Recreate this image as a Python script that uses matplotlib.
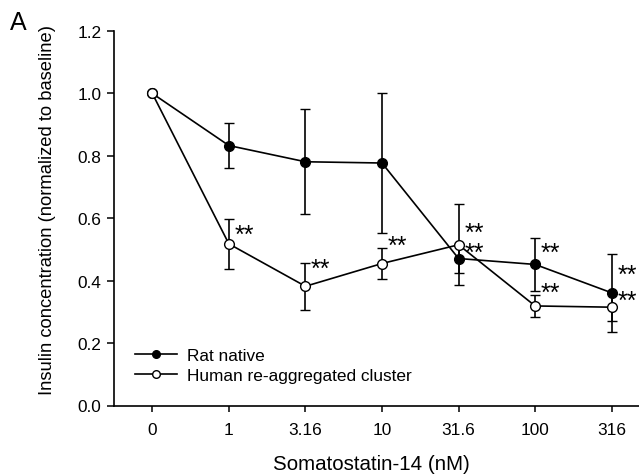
import matplotlib
matplotlib.use("Agg")
import matplotlib.pyplot as plt
from matplotlib.lines import Line2D
import numpy as np

plt.rcParams['font.family'] = ['Liberation Sans', 'DejaVu Sans']

# ---- data ----
doses = ["0", "1", "3.16", "10", "31.6", "100", "316"]
rat_mean = [1.0, 0.833, 0.781, 0.777, 0.471, 0.452, 0.361]
rat_err = [0.0, 0.073, 0.168, 0.224, 0.045, 0.084, 0.125]
human_mean = [1.0, 0.518, 0.382, 0.455, 0.515, 0.319, 0.315]
human_err = [0.0, 0.080, 0.075, 0.051, 0.130, 0.034, 0.044]
series_names = ["Rat native", "Human re-aggregated cluster"]
# significance marks: (dose index, value level)
star_idx = [1, 2, 3, 4, 4, 5, 5, 6, 6]
star_val = [0.556, 0.448, 0.523, 0.563, 0.501, 0.499, 0.371, 0.428, 0.346]
star_text = "**"
xlabel = "Somatostatin-14 (nM)"
ylabel = "Insulin concentration (normalized to baseline)"
panel = "A"

fig = plt.figure(figsize=(6.39, 4.77), dpi=100)
ax = fig.add_axes([114/639, 1 - 406.5/477, 536/639, 374.5/477])

x = np.arange(len(doses))
common = dict(color='black', lw=1.2, ms=7, capsize=3.6, elinewidth=1.2,
              capthick=1.2, markeredgewidth=1.0, markeredgecolor='black')
ax.errorbar(x, rat_mean, yerr=rat_err, fmt='-o', markerfacecolor='black',
            zorder=3, **common)
ax.errorbar(x, human_mean, yerr=human_err, fmt='-o', markerfacecolor='white',
            zorder=4, **common)

# group stacked marks that sit very close together into one two-line text
groups = []
for i, v in zip(star_idx, star_val):
    if groups and groups[-1][0] == i and abs(groups[-1][1][-1] - v) < 0.08:
        groups[-1][1].append(v)
    else:
        groups.append((i, [v]))
for i, vals in groups:
    n = len(vals)
    txt = "\n".join([star_text] * n)
    ax.annotate(txt, xy=(i, np.mean(vals)), xytext=(4.0, -2.3),
                textcoords='offset points', ha='left', va='center',
                fontsize=18, linespacing=0.78)

ax.set_xlim(-0.5, 6.5)
ax.set_ylim(0, 1.2)
ax.set_xticks(x)
ax.set_xticklabels(doses)
ax.set_yticks(np.arange(0, 1.21, 0.2))
ax.set_yticklabels([f"{v:.1f}" for v in np.arange(0, 1.21, 0.2)])
for s in ['top', 'right']:
    ax.spines[s].set_visible(False)
for s in ['left', 'bottom']:
    ax.spines[s].set_linewidth(1.2)
ax.tick_params(axis='both', direction='out', width=1.1, labelsize=12.4)
ax.tick_params(axis='y', length=5, pad=4)
ax.tick_params(axis='x', length=4, pad=8)

ax.set_xlabel(xlabel, fontsize=14.8)
ax.xaxis.set_label_coords(0.48, -0.13)
ax.set_ylabel(ylabel, fontsize=13.2)
ax.yaxis.set_label_coords(-0.108, 0.526)

handles = [
    Line2D([], [], color='black', lw=1.2, marker='o', ms=5.5,
           markerfacecolor='black', markeredgecolor='black'),
    Line2D([], [], color='black', lw=1.2, marker='o', ms=5.5,
           markerfacecolor='white', markeredgecolor='black'),
]
leg = ax.legend(handles, series_names, loc='lower left',
                bbox_to_anchor=(0.039, 0.06), frameon=False,
                fontsize=12.4, handlelength=2.45, handletextpad=0.55,
                labelspacing=0.3, borderaxespad=0, borderpad=0)

fig.text(10/639, 1 - 30/477, panel, fontsize=18, ha='left', va='baseline')

fig.savefig("out.png", dpi=100)
